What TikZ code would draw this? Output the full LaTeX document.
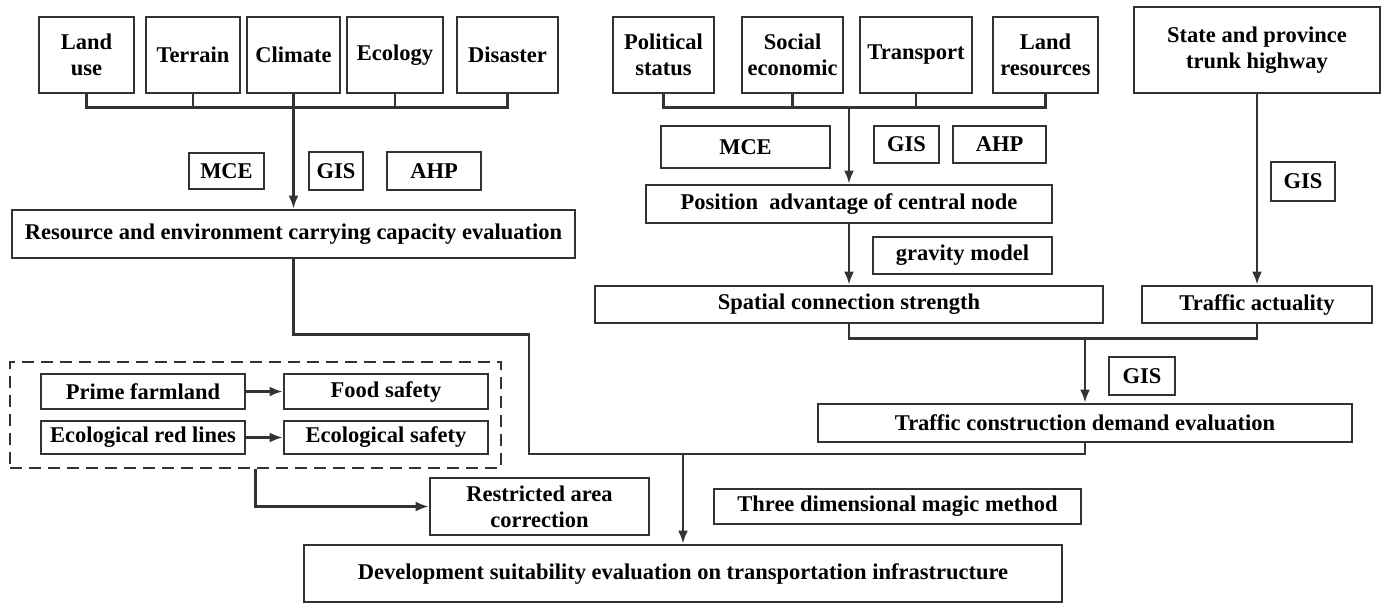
\documentclass[tikz,border=0pt]{standalone}
\usepackage{fontspec}
\setmainfont{Liberation Serif}
\usetikzlibrary{arrows.meta}

\begin{document}
\begin{tikzpicture}[x=1pt,y=-1pt,
	box/.style={draw=black!80, line width=2.8pt, align=center, inner sep=0pt,
		font=\fontsize{22.5}{26}\selectfont\bfseries},
	wh/.style 2 args={minimum width=#1pt, minimum height=#2pt},
	frame/.style={draw=black!80, line width=2.6pt, dash pattern=on 12pt off 7pt},
	link/.style={draw=black!80, line width=2.4pt},
	>={Latex[length=13pt,width=10pt]}]

\useasboundingbox (0,0) rectangle (1381,603);

\node[box,wh={95}{76}] (land) at (86.5,55) {Land\\use};
\node[box,wh={94}{76}] (terrain) at (193,55) {Terrain};
\node[box,wh={93}{76}] (climate) at (293.5,55) {Climate};
\node[box,wh={96}{76}] (ecology) at (395,55) {Ecology};
\node[box,wh={101}{76}] (disaster) at (507.5,55) {Disaster};
\node[box,wh={75}{36}] (mceA) at (226.5,171) {MCE};
\node[box,wh={54}{38}] (gisA) at (336,171) {GIS};
\node[box,wh={94}{38}] (ahpA) at (434,171) {AHP};
\node[box,wh={563}{48}] (resource) at (293.5,234) {Resource and environment carrying capacity evaluation};

\node[box,wh={101}{76}] (political) at (663.5,55) {Political\\status};
\node[box,wh={101}{76}] (social) at (792.5,55) {Social\\economic};
\node[box,wh={112}{76}] (transport) at (916,55) {Transport};
\node[box,wh={105}{76}] (landres) at (1045.5,55) {Land\\resources};
\node[box,wh={169}{42}] (mceB) at (745.5,147) {MCE};
\node[box,wh={65}{37}] (gisB) at (906.5,144.5) {GIS};
\node[box,wh={93}{37}] (ahpB) at (999.5,144.5) {AHP};
\node[box,wh={406}{38}] (position) at (849,204) {Position\ \ advantage of central node};
\node[box,wh={179}{37}] (gravity) at (962.5,255.5) {gravity model};
\node[box,wh={508}{37}] (spatial) at (849,304.5) {Spatial connection strength};

\node[box,wh={246}{86}] (state) at (1257,50) {State and province\\trunk highway};
\node[box,wh={64}{39}] (gisC) at (1303,181.5) {GIS};
\node[box,wh={230}{37}] (actual) at (1257,304.5) {Traffic actuality};
\node[box,wh={66}{38}] (gisD) at (1142,376) {GIS};
\node[box,wh={534}{38}] (tcd) at (1085,423) {Traffic construction demand evaluation};

\node[frame,wh={491}{106}] (zone) at (255.5,415) {};
\node[box,wh={204}{35}] (prime) at (143,391.5) {Prime farmland};
\node[box,wh={204}{35}] (food) at (386,391.5) {Food safety};
\node[box,wh={204}{33}] (redline) at (143,437.5) {Ecological red lines};
\node[box,wh={204}{33}] (ecosafe) at (386,437.5) {Ecological safety};
\node[box,wh={219}{57}] (restricted) at (539.5,506.5) {Restricted area\\correction};
\node[box,wh={367}{35}] (three) at (897.5,506.5) {Three dimensional magic method};
\node[box,wh={758}{57}] (develop) at (683,573.5) {Development suitability evaluation on transportation infrastructure};

\coordinate (hubB) at (849,106);
\coordinate (hubC) at (1085,337);
\coordinate (hubD) at (683,454);

\draw[link] (land.south) -- ++(0,13) -| (disaster.south);
\draw[link] (terrain.south) -- ++(0,13);
\draw[link] (ecology.south) -- ++(0,13);
\draw[link,->] (climate.south) -- (resource.north);

\draw[link] (political.south) -- ++(0,13) -| (landres.south);
\draw[link] (social.south) -- ++(0,13);
\draw[link] (transport.south) -- ++(0,13);
\draw[link,->] (hubB) -- (position.north);
\draw[link,->] (position.south) -- (spatial.north);
\draw[link,->] (state.south) -- (actual.north);

\draw[link] (spatial.south) -- ++(0,14) -| (actual.south);
\draw[link,->] (hubC) -- (tcd.north);
\draw[link] (resource.south) -- ++(0,75) -| (529,454) -| (tcd.south);
\draw[link,->] (hubD) -- (develop.north);

\draw[link,->] (prime) -- (food);
\draw[link,->] (redline) -- (ecosafe);
\draw[link,->] (zone.south) |- (restricted.west);
\end{tikzpicture}
\end{document}
